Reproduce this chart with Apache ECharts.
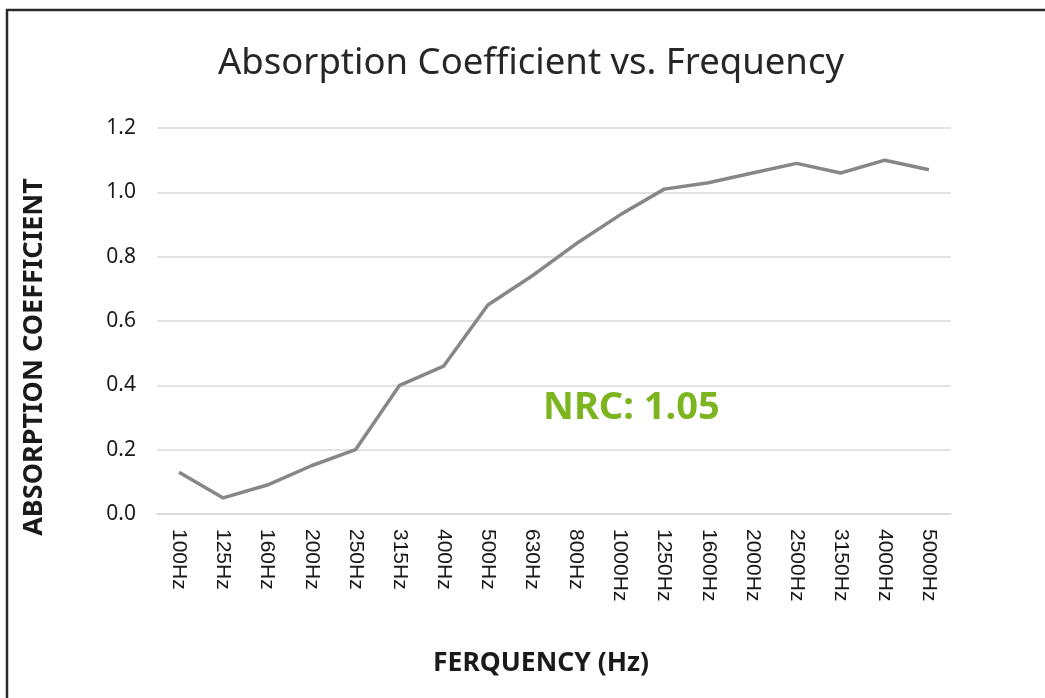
<!DOCTYPE html>
<html>
<head>
<meta charset="utf-8">
<script src="https://cdn.jsdelivr.net/npm/echarts@6/dist/echarts.min.js"></script>
<style>
  html, body { margin: 0; padding: 0; background: #fff; }
  #main { width: 1045px; height: 698px; }
</style>
</head>
<body>
<div id="main"></div>
<script>
// data
var freqs = ['100Hz', '125Hz', '160Hz', '200Hz', '250Hz', '315Hz', '400Hz', '500Hz', '630Hz',
  '800Hz', '1000Hz', '1250Hz', '1600Hz', '2000Hz', '2500Hz', '3150Hz', '4000Hz', '5000Hz'];
var coeff = [0.13, 0.05, 0.09, 0.15, 0.20, 0.40, 0.46, 0.65, 0.74,
  0.84, 0.93, 1.01, 1.03, 1.06, 1.09, 1.06, 1.10, 1.07];
var nrcLabel = 'NRC: 1.05';
var yName = 'ABSORPTION COEFFICIENT';
var xName = 'FERQUENCY (Hz)';

var myChart = echarts.init(document.getElementById('main'));

var option = {
  backgroundColor: '#fff',
  animation: false,
  grid: {
    left: 157,
    right: 94,
    top: 128,
    bottom: 184
  },
  xAxis: {
    type: 'category',
    data: freqs,
    boundaryGap: true,
    axisLine: { lineStyle: { color: '#d9d9d9', width: 1.5 } },
    axisTick: { show: false },
    axisLabel: {
      interval: 0,
      rotate: -90,
      margin: 15,
      fontFamily: 'Arial, "Liberation Sans", sans-serif',
      fontSize: 21,
      color: '#1a1a1a'
    }
  },
  yAxis: {
    type: 'value',
    min: 0,
    max: 1.2,
    interval: 0.2,
    axisLine: { show: false },
    axisTick: { show: false },
    axisLabel: {
      margin: 21,
      fontFamily: '"Noto Sans", sans-serif',
      fontSize: 21,
      color: '#1a1a1a',
      formatter: function (v) { return v.toFixed(1); }
    },
    splitLine: { lineStyle: { color: '#d9d9d9', width: 1.5 } }
  },
  series: [{
    name: 'Absorption',
    type: 'line',
    data: coeff,
    symbol: 'none',
    lineStyle: { color: '#878787', width: 3.5 }
  }],
  graphic: [
    {
      type: 'rect',
      shape: { x: 7, y: 10, width: 1200, height: 900 },
      style: { fill: 'none', stroke: '#2a2a2a', lineWidth: 2.5 },
      silent: true
    },
    {
      // title
      type: 'text',
      x: 531,
      y: 64,
      style: {
        text: 'Absorption Coefficient vs. Frequency',
        align: 'center',
        verticalAlign: 'middle',
        fontFamily: '"Noto Sans", sans-serif',
        fontSize: 36.5,
        fill: '#262626'
      }
    },
    {
      type: 'text',
      x: 34,
      y: 357,
      rotation: Math.PI / 2,
      style: {
        text: yName,
        align: 'center',
        verticalAlign: 'middle',
        fontFamily: '"Noto Sans", sans-serif',
        fontSize: 27,
        fontWeight: 'bold',
        fill: '#1a1a1a'
      }
    },
    {
      type: 'text',
      x: 541,
      y: 663,
      style: {
        text: xName,
        align: 'center',
        verticalAlign: 'middle',
        fontFamily: '"Noto Sans", sans-serif',
        fontSize: 26.5,
        fontWeight: 'bold',
        fill: '#1a1a1a'
      }
    },
    {
      type: 'text',
      x: 543,
      y: 408,
      style: {
        text: nrcLabel,
        verticalAlign: 'middle',
        fontFamily: '"Noto Sans", sans-serif',
        fontSize: 38,
        fontWeight: 'bold',
        fill: '#7cb520'
      }
    }
  ]
};

myChart.setOption(option);
window.onresize = myChart.resize;
</script>
</body>
</html>
